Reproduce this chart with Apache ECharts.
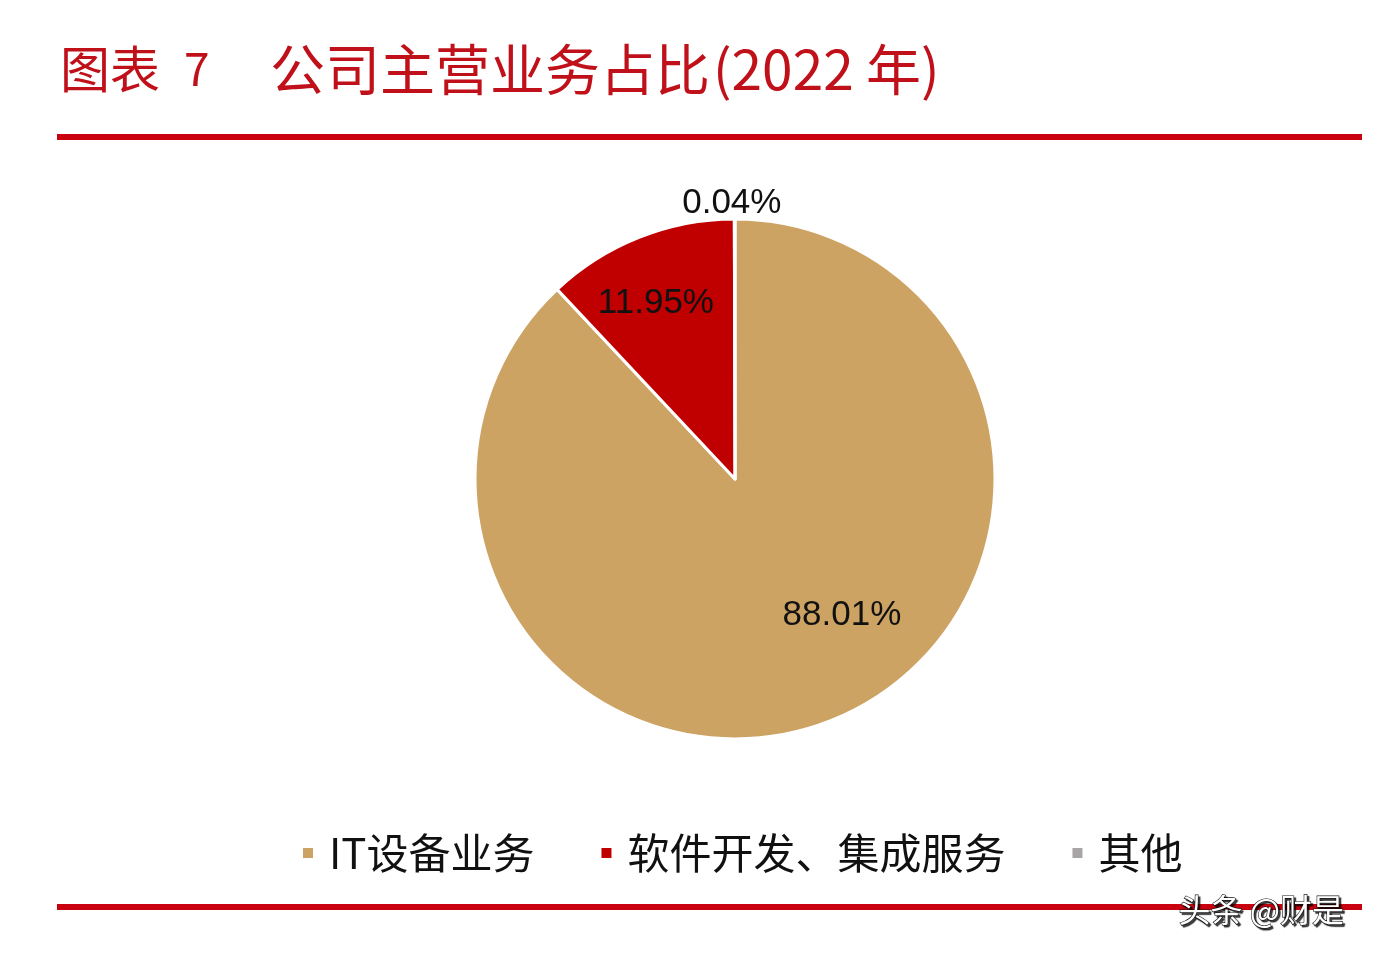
<!DOCTYPE html>
<html>
<head>
<meta charset="utf-8">
<script src="https://cdn.jsdelivr.net/npm/echarts@6/dist/echarts.min.js"></script>
<style>
html,body{margin:0;padding:0;background:#fff;}
#c{width:1392px;height:960px;}
</style>
</head>
<body>
<div id="c"></div>
<script>
const categories = ['IT设备业务', '软件开发、集成服务', '其他'];
const values = [88.01, 11.95, 0.04];
const colors = ['#CDA364', '#C00000', '#A9A4A6'];
const labelOffsets = [[58, 13], [-30, -52], [-3, -143]];

const chart = echarts.init(document.getElementById('c'));
const titleColor = '#C0101A';
const titleFont = '"Noto Sans CJK SC", sans-serif';

chart.setOption({
  backgroundColor: '#ffffff',
  animation: false,
  color: colors,
  legend: {
    left: 296,
    top: 827,
    icon: 'rect',
    itemWidth: 12,
    itemHeight: 12,
    itemGap: 65,
    textStyle: { fontSize: 42, color: '#111', fontFamily: titleFont, padding: [0, 0, 0, 10] },
    data: categories
  },
  graphic: [
    { type: 'text', left: 60, top: 44, style: { text: '图表', fontSize: 50, fill: titleColor, fontFamily: titleFont } },
    { type: 'text', left: 184, top: 46, style: { text: '7', fontSize: 46, fill: titleColor, fontFamily: titleFont } },
    { type: 'text', left: 270, top: 42, style: { text: '公司主营业务占比', fontSize: 55, fill: titleColor, fontFamily: titleFont } },
    { type: 'text', left: 713, top: 42, style: { text: '(2022 年)', fontSize: 55, fill: titleColor, fontFamily: titleFont } },
    { type: 'rect', shape: { x: 57, y: 134, width: 1305, height: 6 }, style: { fill: '#C8000F' } },
    { type: 'rect', shape: { x: 57, y: 904, width: 1305, height: 6 }, style: { fill: '#C8000F' } },
    { type: 'text', left: 1178, top: 893, z: 10, style: { text: '头条 @财是', fontSize: 32, fill: '#ffffff', stroke: '#111', lineWidth: 1.2, fontFamily: titleFont, textShadowColor: 'rgba(0,0,0,0.7)', textShadowOffsetX: 2, textShadowOffsetY: 2, textShadowBlur: 1 } }
  ],
  series: [{
    type: 'pie',
    center: [735, 479],
    radius: 260,
    startAngle: 90,
    clockwise: true,
    avoidLabelOverlap: false,
    itemStyle: { borderColor: '#ffffff', borderWidth: 3 },
    label: {
      show: true,
      position: 'inside',
      fontSize: 35,
      color: '#111',
      fontFamily: '"Liberation Sans", Arial, sans-serif',
      formatter: p => p.value.toFixed(2) + '%'
    },
    labelLine: { show: false },
    labelLayout: p => ({ dx: labelOffsets[p.dataIndex][0], dy: labelOffsets[p.dataIndex][1] }),
    emphasis: { disabled: true },
    data: categories.map((c, i) => ({ name: c, value: values[i] }))
  }]
});
</script>
</body>
</html>
